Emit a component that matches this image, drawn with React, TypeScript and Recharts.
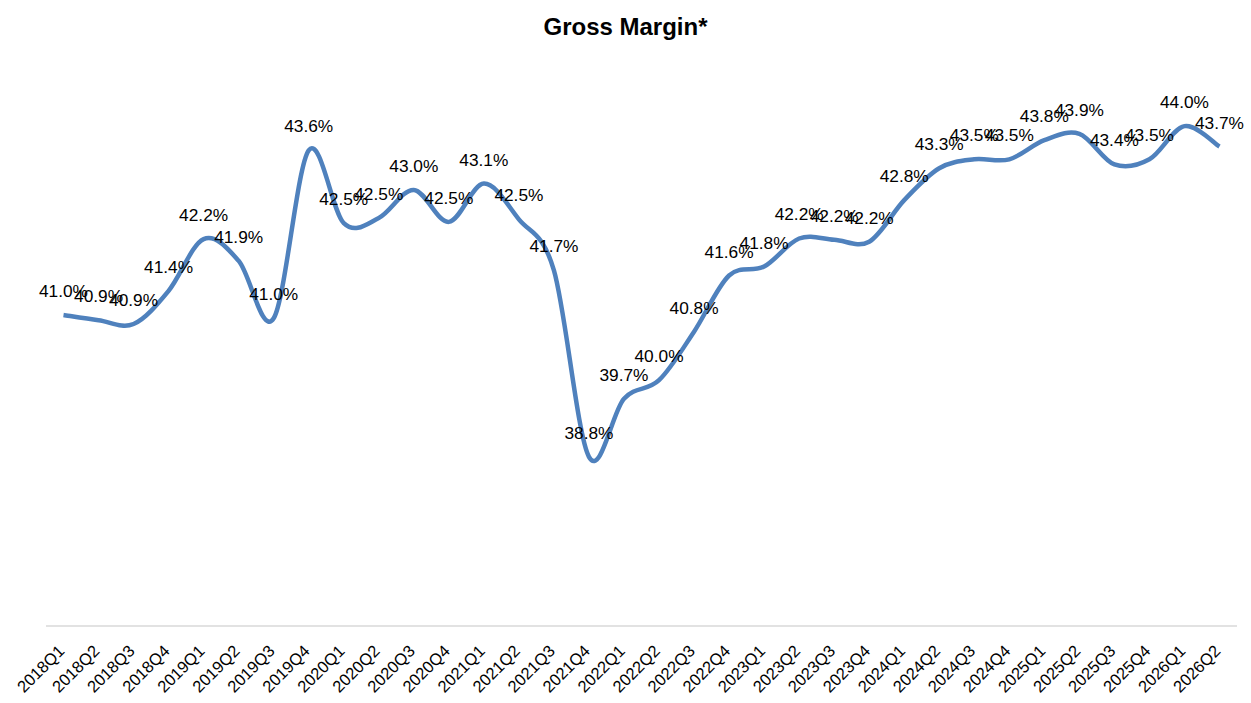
import React from 'react';
import { LineChart, Line, XAxis, YAxis, LabelList } from 'recharts';

const quarters = [
  '2018Q1', '2018Q2', '2018Q3', '2018Q4',
  '2019Q1', '2019Q2', '2019Q3', '2019Q4',
  '2020Q1', '2020Q2', '2020Q3', '2020Q4',
  '2021Q1', '2021Q2', '2021Q3', '2021Q4',
  '2022Q1', '2022Q2', '2022Q3', '2022Q4',
  '2023Q1', '2023Q2', '2023Q3', '2023Q4',
  '2024Q1', '2024Q2', '2024Q3', '2024Q4',
  '2025Q1', '2025Q2', '2025Q3', '2025Q4',
  '2026Q1', '2026Q2',
];

const grossMargin = [
  41.02, 40.94, 40.88, 41.4,
  42.21, 41.87, 40.97, 43.6,
  42.46, 42.54, 42.98, 42.48,
  43.08, 42.52, 41.72, 38.8,
  39.71, 40.0, 40.76, 41.64,
  41.78, 42.22, 42.2, 42.17,
  42.82, 43.32, 43.46, 43.46,
  43.76, 43.86, 43.38, 43.46,
  43.98, 43.66,
];

const data = quarters.map((q, i) => ({ q, v: grossMargin[i] }));

const FONT = '"Liberation Sans", Arial, Helvetica, sans-serif';

// Excel-like smoothing (Catmull-Rom style Bezier)
const excelCurve = (context: any) => {
  let pts: number[][] = [];
  return {
    areaStart() {},
    areaEnd() {},
    lineStart() {
      pts = [];
    },
    point(x: number, y: number) {
      pts.push([+x, +y]);
    },
    lineEnd() {
      if (!pts.length) return;
      context.moveTo(pts[0][0], pts[0][1]);
      for (let i = 0; i < pts.length - 1; i++) {
        const p0 = pts[i - 1] || pts[i];
        const p1 = pts[i];
        const p2 = pts[i + 1];
        const p3 = pts[i + 2] || pts[i + 1];
        const c1x = p1[0] + (p2[0] - p0[0]) / 6;
        const c1y = p1[1] + (p2[1] - p0[1]) / 6;
        const c2x = p2[0] - (p3[0] - p1[0]) / 6;
        const c2y = p2[1] - (p3[1] - p1[1]) / 6;
        context.bezierCurveTo(c1x, c1y, c2x, c2y, p2[0], p2[1]);
      }
    },
  };
};

const RotatedTick = (props: any) => {
  const { x, y, payload } = props;
  const ax = x - 2;
  const ay = y + 14;
  return (
    <text
      x={ax}
      y={ay}
      dy="0.35em"
      transform={`rotate(-45 ${ax} ${ay})`}
      textAnchor="end"
      fontSize={16.5}
      fontFamily={FONT}
      fill="#000"
    >
      {payload.value}
    </text>
  );
};

export default function App() {
  return (
    <div
      style={{
        position: 'absolute',
        left: 0,
        top: 0,
        width: 1251,
        height: 703,
        background: '#fff',
        fontFamily: FONT,
      }}
    >
      <div
        style={{
          position: 'absolute',
          left: 0,
          top: 12,
          width: 1251,
          textAlign: 'center',
          fontSize: 24,
          fontWeight: 'bold',
          color: '#000',
          lineHeight: '30px',
        }}
      >
        Gross Margin*
      </div>
      <LineChart
        width={1251}
        height={703}
        data={data}
        margin={{ top: 61, right: 14, bottom: 0, left: 46 }}
      >
        <XAxis
          dataKey="q"
          interval={0}
          tickLine={false}
          padding={{ left: 17.5, right: 17.5 }}
          axisLine={{ stroke: '#d9d9d9', strokeWidth: 1.5 }}
          tick={<RotatedTick />}
          height={77}
        />
        <YAxis hide type="number" domain={[36.15, 45]} allowDataOverflow />
        <Line
          type={excelCurve as any}
          dataKey="v"
          stroke="#4f81bd"
          strokeWidth={4.5}
          dot={false}
          activeDot={false}
          isAnimationActive={false}
        >
          <LabelList
            dataKey="v"
            position="top"
            offset={18}
            formatter={(v: any) => `${Number(v).toFixed(1)}%`}
            fill="#000"
            fontSize={17.3}
            fontFamily={FONT}
          />
        </Line>
      </LineChart>
    </div>
  );
}
